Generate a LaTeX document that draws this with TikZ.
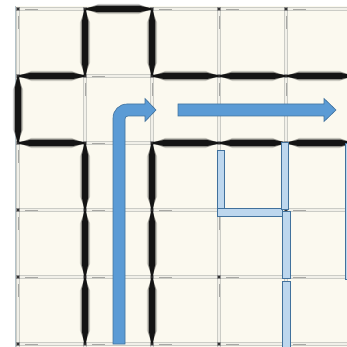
\documentclass[tikz,border=0pt]{standalone}
\usetikzlibrary{calc}
\definecolor{paper}{HTML}{FBF9EF}
\definecolor{thinout}{HTML}{CBCCC6}
\definecolor{thinin}{HTML}{F1F0E9}
\definecolor{dashc}{HTML}{A8A8A4}
\definecolor{edgec}{HTML}{B4C2C8}
\definecolor{arrowfill}{HTML}{5B9BD5}
\definecolor{arrowline}{HTML}{41719C}
\definecolor{lightfill}{HTML}{BDD7EE}
\newcommand\hthin[3]{%
  \draw[thinout, line width=3.6] (#1+2,#3) -- (#2-2,#3);
  \draw[thinin, line width=1.4] (#1+2,#3) -- (#2-2,#3);
  \draw[dashc, line width=0.9] (#1+7,#3) -- (#1+20,#3);}
\newcommand\vthin[3]{%
  \draw[thinout, line width=3.6] (#1,#2+2) -- (#1,#3-2);
  \draw[thinin, line width=1.4] (#1,#2+2) -- (#1,#3-2);
  \draw[dashc, line width=0.9] (#1,#2+7) -- (#1,#2+20);}
\newcommand\hwall[3]{%
  \fill[black, opacity=0.18] (#1,#3) -- (#1+14,#3-5.2) -- (#2-14,#3-5.2) -- (#2,#3) -- (#2-14,#3+5.2) -- (#1+14,#3+5.2) -- cycle;
  \fill[black, opacity=0.3] (#1,#3) -- (#1+12,#3-4) -- (#2-12,#3-4) -- (#2,#3) -- (#2-12,#3+4) -- (#1+12,#3+4) -- cycle;
  \fill[black!92] (#1+1,#3-0.8) -- (#1+12,#3-3) -- (#2-12,#3-3) -- (#2-1,#3-0.8) -- (#2-1,#3+0.8) -- (#2-12,#3+3) -- (#1+12,#3+3) -- (#1+1,#3+0.8) -- cycle;}
\newcommand\vwall[3]{%
  \fill[black, opacity=0.18] (#1,#2) -- (#1-5.2,#2+14) -- (#1-5.2,#3-14) -- (#1,#3) -- (#1+5.2,#3-14) -- (#1+5.2,#2+14) -- cycle;
  \fill[black, opacity=0.3] (#1,#2) -- (#1-4,#2+12) -- (#1-4,#3-12) -- (#1,#3) -- (#1+4,#3-12) -- (#1+4,#2+12) -- cycle;
  \fill[black!92] (#1-0.8,#2+1) -- (#1-3,#2+12) -- (#1-3,#3-12) -- (#1-0.8,#3-1) -- (#1+0.8,#3-1) -- (#1+3,#3-12) -- (#1+3,#2+12) -- (#1+0.8,#2+1) -- cycle;}
\begin{document}
\begin{tikzpicture}[x=1pt,y=-1pt,
  bluearrow/.style={fill=arrowfill, draw=arrowline, line width=0.6},
  lightbar/.style={fill=lightfill, draw=arrowline, line width=0.8}]
\useasboundingbox (0,0) rectangle (347,347);
\clip (0,0) rectangle (347,347);
\fill[white] (0,0) rectangle (347,347);
\fill[paper] (15,6) rectangle (347,347);
% thin grid lines everywhere
\foreach \y in {9,76,143,210,277,344} {
  \foreach \a/\b in {18/85,85/152,152/219,219/286,286/353} { \hthin{\a}{\b}{\y} }
}
\foreach \x in {18,85,152,219,286} {
  \foreach \a/\b in {9/76,76/143,143/210,210/277,277/344,344/411} { \vthin{\x}{\a}{\b} }
}
\draw[edgec, line width=1] (15,6) -- (15,347);
% intersections
\foreach \x in {18,85,152,219,286} {
  \foreach \y in {9,76,143,210,277,344} {
    \fill[black!45] (\x-2.2,\y-2.2) rectangle (\x+2.2,\y+2.2);
    \fill[black!80] (\x-1.3,\y-1.3) rectangle (\x+1.3,\y+1.3);
  }
}
% thick walls
\hwall{85}{152}{9}
\foreach \y in {76,143} {
  \hwall{18}{85}{\y}
  \hwall{152}{219}{\y}
  \hwall{219}{286}{\y}
  \hwall{286}{353}{\y}
}
\vwall{18}{76}{143}
\foreach \x in {85,152} {
  \vwall{\x}{9}{76}
  \vwall{\x}{143}{210}
  \vwall{\x}{210}{277}
  \vwall{\x}{277}{344}
}
% light blue bars
\filldraw[lightbar] (217,150) rectangle (224.5,209);
\filldraw[lightbar] (217,208.5) rectangle (282,216.5);
\filldraw[lightbar] (281,142) rectangle (288.5,209.5);
\filldraw[lightbar] (282,211) rectangle (290,278.5);
\filldraw[lightbar] (282,281) rectangle (290,350);
\filldraw[lightbar] (345.5,143) rectangle (353,279);
% bent arrow
\filldraw[bluearrow] (113,344) -- (113,118) .. controls (113,110.3) and (119.3,104) .. (127,104)
  -- (145,104) -- (145,98.5) -- (156,110) -- (145,121.5) -- (145,116) -- (128,116)
  .. controls (126.3,116) and (125,117.3) .. (125,119) -- (125,344) -- cycle;
% straight arrow
\filldraw[bluearrow] (178,104) -- (324,104) -- (324,98.5) -- (336,110) -- (324,121.5) -- (324,116) -- (178,116) -- cycle;
\end{tikzpicture}
\end{document}
